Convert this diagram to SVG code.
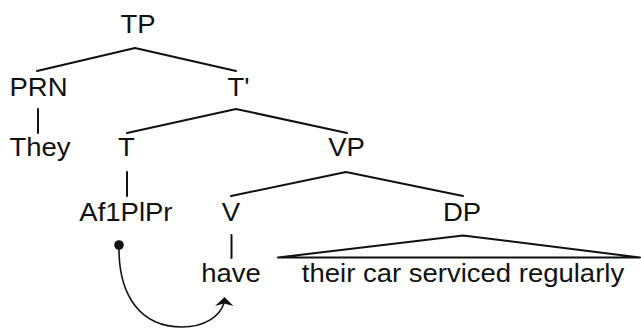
<svg xmlns="http://www.w3.org/2000/svg" width="641" height="328" viewBox="0 0 641 328">
<style>
.t{font-family:"Liberation Sans",Arial,sans-serif;font-size:25px;fill:#111;text-anchor:middle}
.e{stroke:#111;stroke-width:2;fill:none;stroke-linecap:round;stroke-linejoin:round}
.m{stroke:#111;stroke-width:1.6;fill:none}
</style>
<rect width="641" height="328" fill="#fff"/>
<g id="connectors">
<polyline class="e" points="37,71 135,48 236,71"/>
<line class="e" x1="38" y1="109" x2="38" y2="133"/>
<polyline class="e" points="127,133 236,109 347,133"/>
<line class="e" x1="127" y1="172" x2="127" y2="196"/>
<polyline class="e" points="231,196 346,172 463,196"/>
<line class="e" x1="231.5" y1="235" x2="231.5" y2="258"/>
<polygon class="e" points="278,257.5 463,235.5 640,257.5"/>
<circle cx="119" cy="245" r="4.8" fill="#111"/>
<path class="m" d="M119,249 C119,295 140,327 182,327 C205,327 220,316 224,303"/>
<polygon points="224.5,297 215,306 224,303.5 233.5,306" fill="#111"/>
</g>
<g transform="scale(1.1 1)">
<g id="TP"><text class="t" x="125.5" y="33">TP</text></g>
<g id="PRN"><text class="t" x="35" y="96">PRN</text></g>
<g id="Tbar"><text class="t" x="216.8" y="96">T'</text></g>
<g id="They"><text class="t" x="36.4" y="156">They</text></g>
<g id="T"><text class="t" x="115" y="156">T</text></g>
<g id="VP"><text class="t" x="315" y="156">VP</text></g>
<g id="Af"><text class="t" x="114.5" y="221">Af1PlPr</text></g>
<g id="V"><text class="t" x="210" y="221">V</text></g>
<g id="DP"><text class="t" x="420" y="221">DP</text></g>
<g id="have"><text class="t" x="210" y="282">have</text></g>
<g id="DPtext"><text class="t" x="420.9" y="282">their car serviced regularly</text></g>
</g>
</svg>
